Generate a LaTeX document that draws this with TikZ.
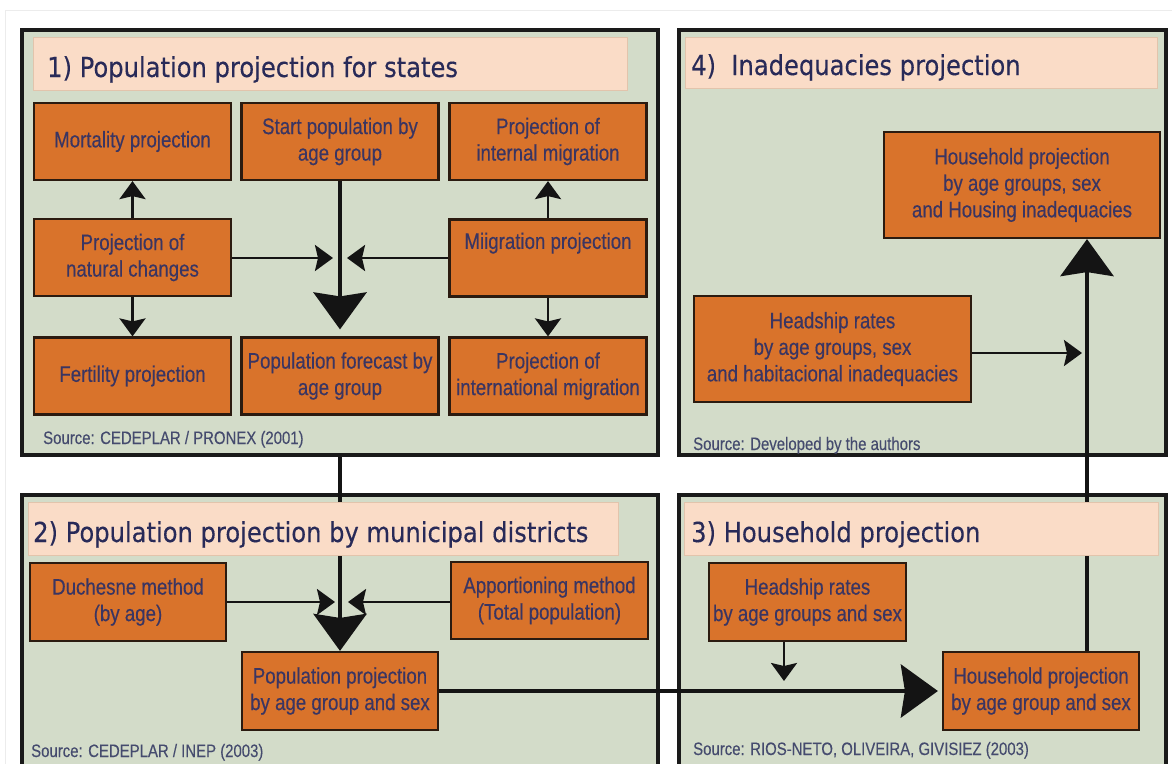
\documentclass[tikz,border=0pt]{standalone}
\usepackage{fontspec}
\setmainfont{Liberation Sans}
\newfontfamily\narrowsans[FakeStretch=0.83,FakeBold=0.35]{Liberation Sans}
\newfontfamily\srcsans[FakeStretch=0.83,FakeBold=0.2]{Liberation Sans}
\newfontfamily\titlesans[FakeStretch=0.88,FakeBold=0.3]{DejaVu Sans}
\usetikzlibrary{arrows.meta}
\definecolor{sage}{HTML}{D3DCC9}
\definecolor{framecol}{HTML}{1A1A1A}
\definecolor{peach}{HTML}{FADCC7}
\definecolor{peachline}{HTML}{E2C4AC}
\definecolor{orangebox}{HTML}{D9732B}
\definecolor{boxline}{HTML}{2B1B10}
\definecolor{boxtext}{HTML}{3A3562}
\definecolor{titletext}{HTML}{282A58}
\definecolor{srctext}{HTML}{454B6E}
\definecolor{linkcol}{HTML}{141414}
\definecolor{faint}{HTML}{ECECEC}
\pgfdeclarelayer{panels}
\pgfdeclarelayer{links}
\pgfsetlayers{panels,links,main}
\begin{document}
\begin{tikzpicture}[x=1pt,y=-1pt,
  panel/.style={draw=framecol, line width=4.5pt, fill=sage, inner sep=0pt, rectangle},
  titlebar/.style={draw=peachline, line width=1pt, fill=peach, inner sep=0pt, rectangle},
  titletxt/.style={anchor=base west, inner sep=0pt, text=titletext, font=\titlesans\fontsize{27.5}{33}\selectfont},
  box/.style={draw=boxline, line width=2.2pt, fill=orangebox, text=boxtext, inner sep=0pt, align=center,
    minimum width=197pt, minimum height=77pt, font=\narrowsans\fontsize{22.5}{26.5}\selectfont},
  srctxt/.style={anchor=base west, inner sep=0pt, text=srctext, font=\srcsans\fontsize{18}{21}\selectfont},
  thinlink/.style={draw=linkcol, line width=2.7pt, -{Stealth[length=18pt,width=26pt,inset=3pt]}},
  thicklink/.style={draw=linkcol, line width=4.5pt, -{Stealth[length=37pt,width=53pt,inset=4pt]}}
]
\useasboundingbox (0,0) rectangle (1172,763);
\clip (0,0) rectangle (1172,763);
\begin{pgfonlayer}{panels}
\fill[white] (0,0) rectangle (1172,763);
\draw[faint, line width=1pt] (5,10) rectangle (1200,800);
\node[panel, minimum width=636pt, minimum height=425pt] (p1) at (340,242.5) {};
\node[panel, minimum width=487pt, minimum height=425pt] (p4) at (922.5,242.5) {};
\node[panel, minimum width=636pt, minimum height=310pt] (p2) at (340,650) {};
\node[panel, minimum width=487pt, minimum height=310pt] (p3) at (922.5,650) {};
\end{pgfonlayer}

% title bars
\node[titlebar, minimum width=594pt, minimum height=53pt] (t1) at (330,63.5) {};
\node[titlebar, minimum width=472pt, minimum height=51pt] (t4) at (921,62.5) {};
\node[titlebar, minimum width=590pt, minimum height=53pt] (t2) at (323,528.5) {};
\node[titlebar, minimum width=474pt, minimum height=53pt] (t3) at (921,528.5) {};
\node[titletxt] (tt1) at (47,77) {1) Population projection for states};
\node[titletxt] (tt4) at (691,75) {4)\ \ Inadequacies projection};
\node[titletxt] (tt2) at (33,542) {2) Population projection by municipal districts};
\node[titletxt] (tt3) at (691,542) {3) Household projection};

% panel 1
\node[box] (mort) at (132.5,141.5) {Mortality projection};
\node[box] (start) at (340,141.5) {Start population by\\age group};
\node[box] (intmig) at (548,141.5) {Projection of\\internal migration};
\node[box] (nat) at (132.5,257.5) {Projection of\\natural changes};
\node[box] (mig) at (548,258) {Miigration projection\\\strut};
\node[box] (fert) at (132.5,376) {Fertility projection};
\node[box] (fore) at (340,376) {Population forecast by\\age group};
\node[box] (intlmig) at (548,376) {Projection of\\international migration};
\node[srctxt] (s1) at (43,444) {Source: CEDEPLAR / PRONEX (2001)};

% panel 4
\node[box, minimum width=276pt, minimum height=106pt] (hh4) at (1022,185) {Household projection\\by age groups, sex\\and Housing inadequacies};
\node[box, minimum width=277pt, minimum height=106pt] (hr4) at (832.5,349) {Headship rates\\by age groups, sex\\and habitacional inadequacies};
\node[srctxt] (s4) at (693,450) {Source: Developed by the authors};

% panel 2
\node[box, minimum width=196pt, minimum height=78pt] (duch) at (128,602) {Duchesne method\\(by age)};
\node[box, minimum width=197pt, minimum height=77pt] (appo) at (549.5,600.5) {Apportioning method\\(Total population)};
\node[box, minimum width=196pt, minimum height=78pt] (pp2) at (340,691) {Population projection\\by age group and sex};
\node[srctxt] (s2) at (31,757) {Source: CEDEPLAR / INEP (2003)};

% panel 3
\node[box, minimum width=197pt, minimum height=78pt] (hr3) at (807.5,602) {Headship rates\\by age groups and sex};
\node[box, minimum width=196pt, minimum height=78pt] (hh3) at (1041,691) {Household projection\\by age group and sex};
\node[srctxt] (s3) at (693,755) {Source: RIOS-NETO, OLIVEIRA, GIVISIEZ (2003)};

\coordinate (m1) at (333,258);
\coordinate (m2) at (347,258);
\coordinate (d1) at (335,602);
\coordinate (d2) at (348,602);
\coordinate (h3) at (784,681);
\coordinate (vx) at (1087,0);
\coordinate (e4) at (1082,353);

\begin{pgfonlayer}{links}
\draw[thinlink] (nat.north) -- (mort.south);
\draw[thinlink] (nat.south) -- (fert.north);
\draw[thinlink] (mig.north) -- (intmig.south);
\draw[thinlink] (mig.south) -- (intlmig.north);
\draw[thinlink] (nat.east |- m1) -- (m1);
\draw[thinlink] (mig.west |- m2) -- (m2);
\draw[thicklink, shorten >=7pt] (start.south) -- (fore.north);
\draw[thicklink] (p1.south -| pp2.north) -- (pp2.north);
\draw[thinlink] (duch.east |- d1) -- (d1);
\draw[thinlink] (appo.west |- d2) -- (d2);
\draw[thicklink, shorten >=4pt] (pp2.east) -- (hh3.west);
\draw[thinlink] (hr3.south -| h3) -- (h3);
\draw[thicklink] (hh3.north -| vx) -- (hh4.south -| vx);
\draw[thinlink] (hr4.east |- e4) -- (e4);
\end{pgfonlayer}
\end{tikzpicture}
\end{document}
